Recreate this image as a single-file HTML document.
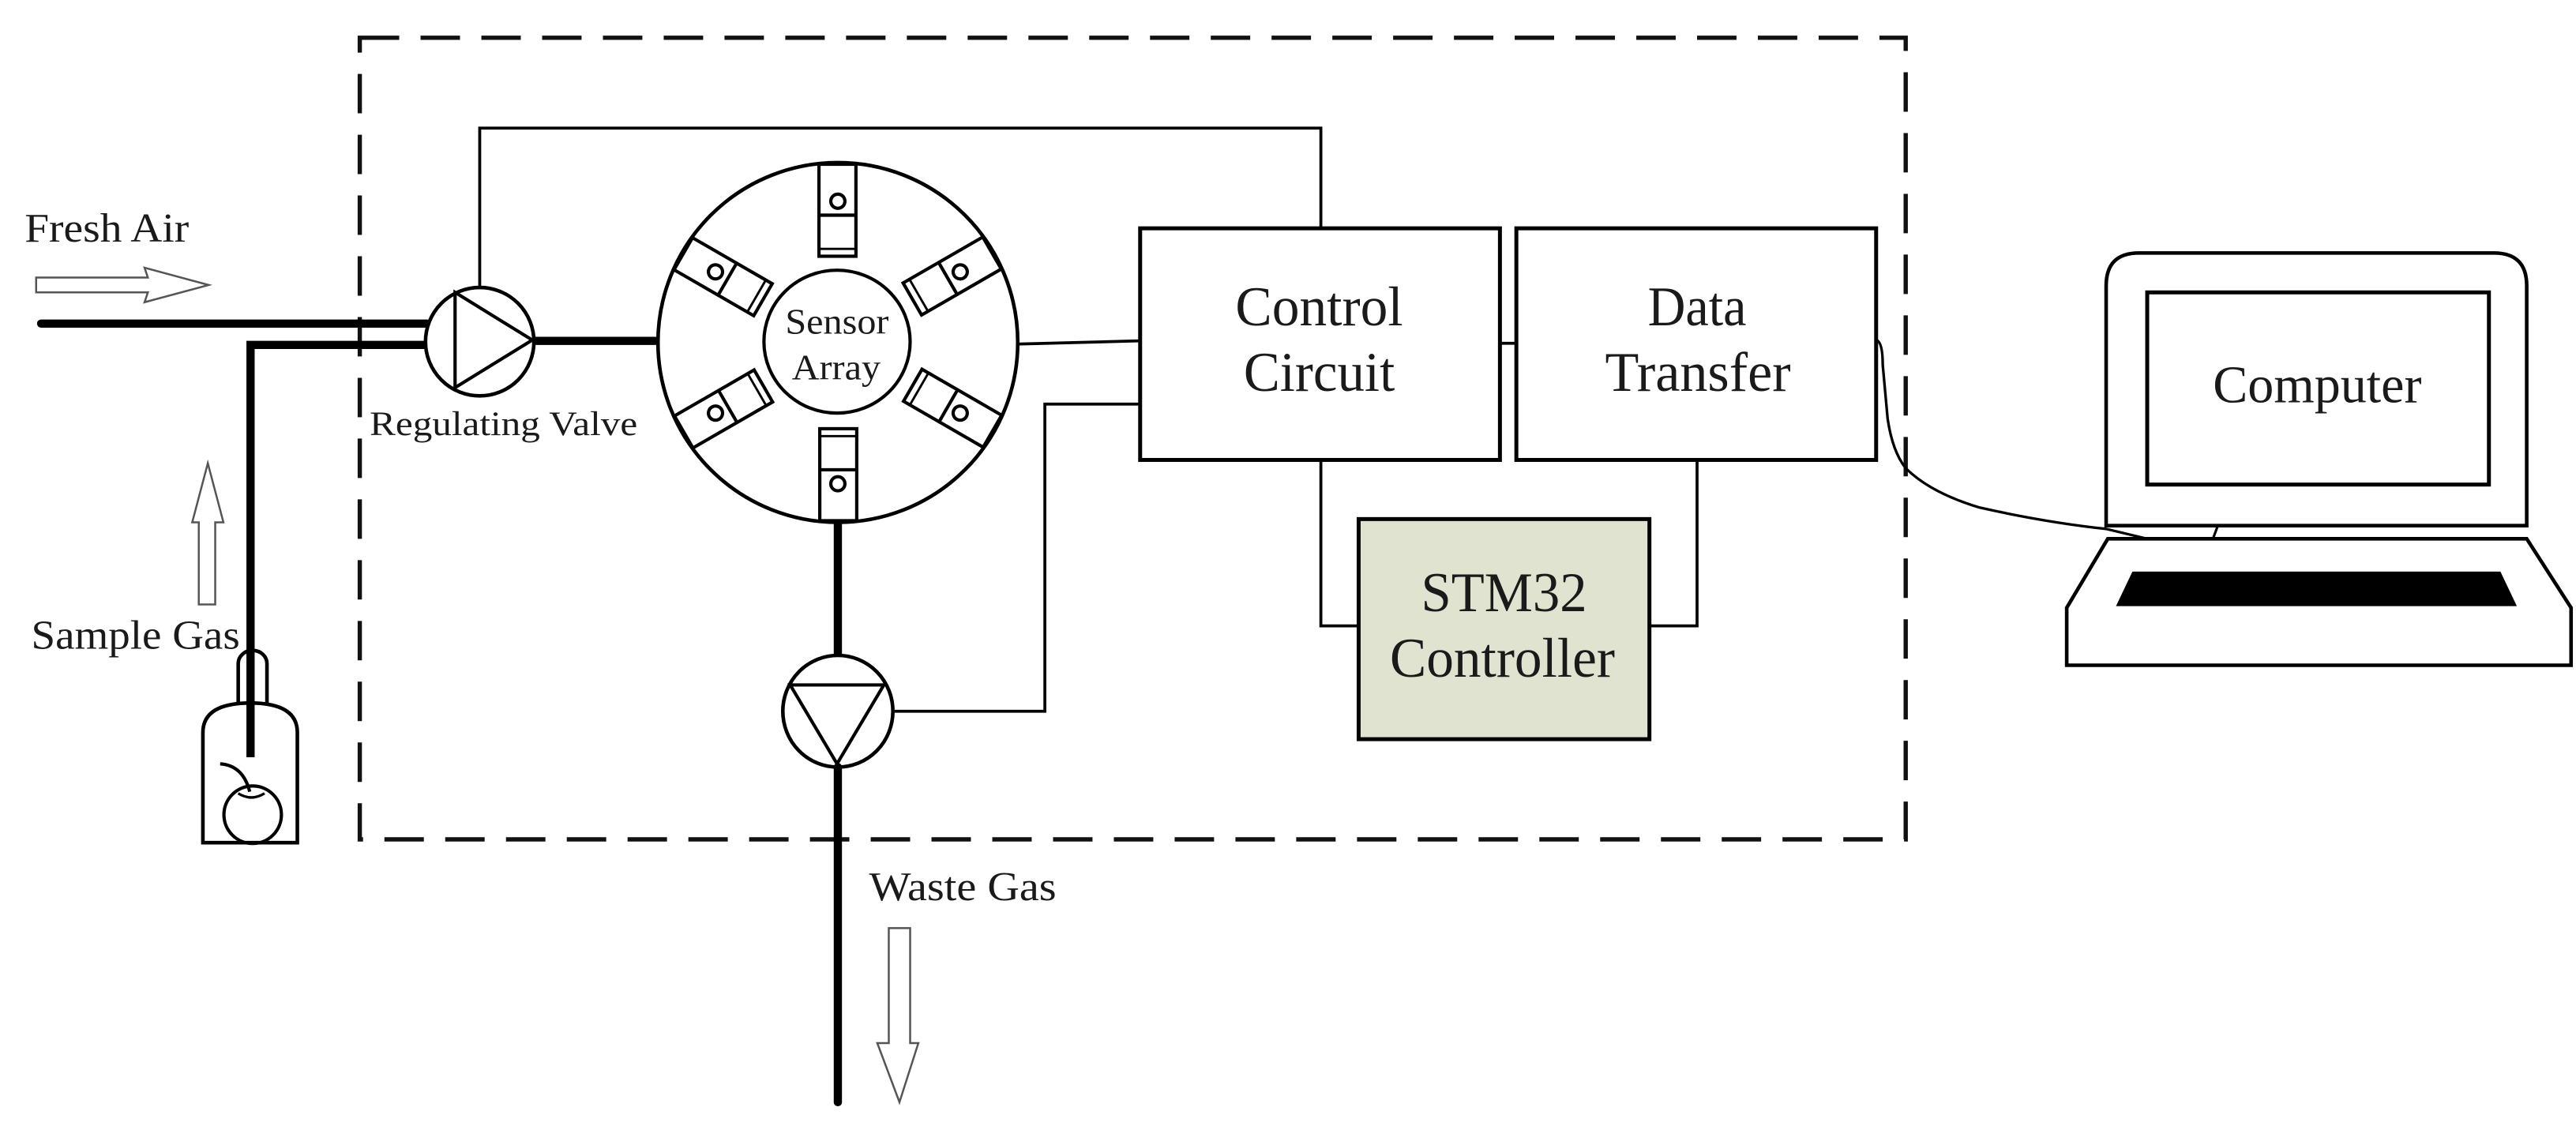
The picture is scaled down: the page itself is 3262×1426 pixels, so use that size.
<!DOCTYPE html>
<html><head><meta charset="utf-8"><style>
html,body{margin:0;padding:0;background:#fff;}
svg{display:block;}
text{font-family:"Liberation Serif",serif;fill:#1a1a1a;}
</style></head><body>
<svg width="3262" height="1426" viewBox="0 0 1568 685.5" preserveAspectRatio="none" xmlns="http://www.w3.org/2000/svg">
<rect x="0" y="0" width="1568" height="685.5" fill="#fff"/>
<rect x="219" y="23" width="941" height="488" fill="none" stroke="#111" stroke-width="2.6" stroke-dasharray="24 13"/>

<text x="15" y="147" font-size="25" textLength="100" lengthAdjust="spacingAndGlyphs">Fresh Air</text>
<path d="M22,169 L90,169 L88,163 L127,173.5 L88,184 L90,178 L22,178 Z" fill="none" stroke="#555" stroke-width="1.2"/>
<line x1="25" y1="197" x2="260" y2="197" stroke="#000" stroke-width="5" stroke-linecap="round"/>
<polyline points="152.5,461 152.5,210 260,210" fill="none" stroke="#000" stroke-width="5"/>

<path d="M121,368 L121,318 L117,318 L126.5,282 L136,318 L131,318 L131,368 Z" fill="none" stroke="#555" stroke-width="1.2"/>
<text x="19" y="395" font-size="25" textLength="127" lengthAdjust="spacingAndGlyphs">Sample Gas</text>
<path d="M145,428 L145,404 A8.7,8 0 0 1 162.5,404 L162.5,428" fill="none" stroke="#000" stroke-width="2.2"/>
<path d="M123.5,513 L123.5,446 Q123.5,428 152.5,428 Q181,428 181,446 L181,513 Z" fill="none" stroke="#000" stroke-width="2.2"/>
<circle cx="153.8" cy="496" r="17.5" fill="none" stroke="#000" stroke-width="2"/>
<path d="M134,465 Q148,466 152,482" fill="none" stroke="#000" stroke-width="2"/>
<path d="M145,483 Q153,488 161,483" fill="none" stroke="#000" stroke-width="1.6"/>

<ellipse cx="292" cy="208" rx="33" ry="33" fill="#fff" stroke="#000" stroke-width="2.2"/>
<path d="M277,178 L277,236 L324,207 Z" fill="none" stroke="#000" stroke-width="2"/>
<text x="225" y="265" font-size="21" textLength="163" lengthAdjust="spacingAndGlyphs">Regulating Valve</text>
<polyline points="292,175 292,78 804,78 804,139" fill="none" stroke="#000" stroke-width="1.8"/>
<line x1="325" y1="207.5" x2="402" y2="207.5" stroke="#000" stroke-width="5"/>

<circle cx="510" cy="208.5" r="109.5" fill="#fff" stroke="#000" stroke-width="2.2"/>
<g id="s" fill="none" stroke="#000" stroke-width="2">
<rect x="498.5" y="100" width="22.5" height="56" fill="#fff"/>
<line x1="498.5" y1="131" x2="521" y2="131"/>
<line x1="498.5" y1="151.5" x2="521" y2="151.5" stroke-width="1.4"/>
<circle cx="510" cy="122.5" r="4.3"/>
</g>
<use href="#s" transform="rotate(60 510 208.5)"/>
<use href="#s" transform="rotate(120 510 208.5)"/>
<use href="#s" transform="rotate(180 510 208.5)"/>
<use href="#s" transform="rotate(240 510 208.5)"/>
<use href="#s" transform="rotate(300 510 208.5)"/>
<ellipse cx="509.5" cy="208" rx="44.5" ry="43.5" fill="#fff" stroke="#000" stroke-width="2"/>
<text x="478" y="203" font-size="22" textLength="63" lengthAdjust="spacingAndGlyphs">Sensor</text>
<text x="482" y="231" font-size="22" textLength="54" lengthAdjust="spacingAndGlyphs">Array</text>
<line x1="619" y1="209.5" x2="694" y2="207.5" stroke="#000" stroke-width="1.8"/>
<line x1="510" y1="318" x2="510" y2="400" stroke="#000" stroke-width="5"/>
<ellipse cx="510" cy="433" rx="33.5" ry="34" fill="#fff" stroke="#000" stroke-width="2.2"/>
<path d="M481,417 L538,417 L509.5,465 Z" fill="none" stroke="#000" stroke-width="2"/>
<line x1="510" y1="467" x2="510" y2="671" stroke="#000" stroke-width="5" stroke-linecap="round"/>
<polyline points="543.5,433 636,433 636,246 694,246" fill="none" stroke="#000" stroke-width="1.8"/>
<text x="529" y="548" font-size="25" textLength="114" lengthAdjust="spacingAndGlyphs">Waste Gas</text>
<path d="M541,565 L554,565 L554,635 L559,635 L547.5,671 L534,635 L541,635 Z" fill="none" stroke="#555" stroke-width="1.2"/>

<rect x="694" y="139" width="219" height="141" fill="none" stroke="#000" stroke-width="2.4"/>
<rect x="923" y="139" width="219" height="141" fill="none" stroke="#000" stroke-width="2.4"/>
<line x1="913" y1="209" x2="923" y2="209" stroke="#000" stroke-width="1.8"/>
<text x="752" y="198" font-size="34" textLength="102" lengthAdjust="spacingAndGlyphs">Control</text>
<text x="757" y="238" font-size="34" textLength="92" lengthAdjust="spacingAndGlyphs">Circuit</text>
<text x="1003" y="198" font-size="34" textLength="60" lengthAdjust="spacingAndGlyphs">Data</text>
<text x="977" y="238" font-size="34" textLength="113" lengthAdjust="spacingAndGlyphs">Transfer</text>
<polyline points="804,280 804,381 827,381" fill="none" stroke="#000" stroke-width="1.8"/>
<polyline points="1033,280 1033,381 1004,381" fill="none" stroke="#000" stroke-width="1.8"/>
<rect x="827" y="316" width="177" height="134" fill="#dfe3cf" stroke="#000" stroke-width="2.4"/>
<text x="865" y="372" font-size="34" textLength="101" lengthAdjust="spacingAndGlyphs">STM32</text>
<text x="846" y="412" font-size="34" textLength="137" lengthAdjust="spacingAndGlyphs">Controller</text>

<path d="M1142,207 Q1146,208 1146,222 L1149,255 Q1152,275 1160,285 Q1175,300 1205,309 Q1245,318 1282,322 L1307,328" fill="none" stroke="#000" stroke-width="1.6"/>

<path d="M1302,154 L1518,154 Q1538,154 1538,174 L1538,320 L1282,320 L1282,174 Q1282,154 1302,154 Z" fill="#fff" stroke="#000" stroke-width="2.2"/>
<rect x="1307" y="178" width="208" height="117" fill="none" stroke="#000" stroke-width="2.4"/>
<text x="1347" y="245" font-size="32" textLength="127" lengthAdjust="spacingAndGlyphs">Computer</text>
<path d="M1350,320 L1347,328" stroke="#000" stroke-width="1.5"/>
<path d="M1283,328 L1538,328 L1565,370 L1565,405 L1258,405 L1258,370 Z" fill="#fff" stroke="#000" stroke-width="2.2"/>
<path d="M1298,348 L1522,348 L1532,369 L1288,369 Z" fill="#000"/>
</svg>
</body></html>
